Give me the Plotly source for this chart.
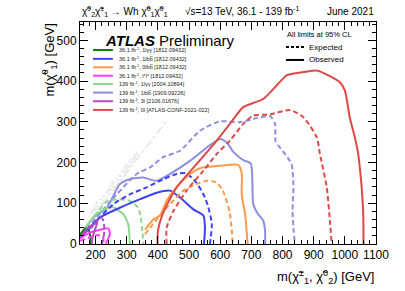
import plotly.graph_objects as go

# ---------------- data ----------------
# 139 fb-1, 0l  (red)
red_obs_x = [399, 400, 417, 460, 524, 589, 631, 674, 738, 781, 813, 867, 910, 947, 984, 1000, 1016, 1032, 1043, 1049, 1054, 1059, 1060]
red_obs_y = [0, 32, 77, 139, 196, 254, 295, 336, 356, 389, 414, 422, 426, 414, 397, 377, 310, 262, 221, 180, 139, 73, 0]
red_exp_x = [428, 428, 450, 492, 546, 589, 631, 674, 706, 760, 824, 867, 910, 920, 942, 952, 958]
red_exp_y = [0, 40, 81, 131, 180, 221, 254, 295, 315, 318, 329, 311, 262, 221, 139, 57, 0]

# 139 fb-1, 1lbb (lavender)
lav_obs_x = [152, 193, 236, 278, 310, 353, 396, 439, 503, 557, 599, 621, 642, 674, 698, 703, 706, 720, 738, 744, 744]
lav_obs_y = [20, 65, 89, 147, 159, 163, 155, 172, 204, 237, 258, 250, 226, 206, 198, 160, 98, 75, 57, 32, 0]
lav_exp_x = [155, 203, 268, 332, 375, 417, 471, 535, 599, 663, 717, 760, 776, 778, 808, 829, 835, 832, 836, 840]
lav_exp_y = [22, 65, 122, 172, 188, 213, 229, 278, 301, 299, 309, 314, 295, 252, 221, 196, 139, 82, 30, 0]

# 36.1 fb-1, 1lbb (blue)
blu_obs_x = [152, 214, 278, 343, 396, 439, 471, 514, 546, 551, 548]
blu_obs_y = [15, 65, 89, 110, 126, 131, 114, 85, 70, 40, 0]
blu_exp_x = [152, 203, 257, 310, 364, 417, 460, 490, 524, 546, 560, 573, 567]
blu_exp_y = [18, 57, 98, 122, 139, 159, 172, 174, 150, 122, 95, 50, 0]

# 36.1 fb-1, 0lbb (orange)
ora_obs_x = [359, 385, 407, 428, 460, 503, 535, 599, 658, 669, 669, 680, 688]
ora_obs_y = [35, 60, 70, 106, 139, 172, 186, 192, 194, 174, 122, 73, 0]
ora_exp_x = [359, 396, 439, 482, 524, 557, 589, 612, 631, 637, 640]
ora_exp_y = [24, 60, 98, 131, 147, 155, 151, 125, 75, 35, 0]

# 139 fb-1, 1lyy (light green)
lgr_obs_x = [150, 200, 236, 257, 289, 305, 310]
lgr_obs_y = [22, 72, 88, 90, 73, 48, 0]
lgr_exp_x = [150, 200, 236, 268, 310, 337, 345, 350, 354]
lgr_exp_y = [22, 72, 104, 110, 106, 89, 65, 32, 0]

# 36.1 fb-1, 1lyy (dark green)
dgr_obs_x = [150, 168, 178, 183, 183]
dgr_obs_y = [22, 38, 34, 18, 0]

# 36.1 fb-1, ll (magenta)
mag_obs_x = [150, 182, 214, 241, 246, 240, 232]
mag_obs_y = [14, 28, 35, 38, 26, 12, 0]
mag_exp_x = [150, 180, 205, 222, 226, 224]
mag_exp_y = [8, 16, 22, 18, 8, 0]

# 139 fb-1, 3l (purple)
pur_obs_x = [152, 171, 193, 205, 198, 190, 188]
pur_obs_y = [18, 36, 48, 52, 35, 15, 0]
pur_exp_x = [160, 193, 209, 218, 226, 228, 224, 220]
pur_exp_y = [24, 45, 60, 65, 55, 30, 10, 0]

diag_x = [150, 430]
diag_y = [25, 305]

legend_labels = [
    "36.1 fb<sup>-1</sup>, 1l\u03b3\u03b3 [1812.09432]",
    "36.1 fb<sup>-1</sup>, 1lbb\u0305 [1812.09432]",
    "36.1 fb<sup>-1</sup>, 0lbb\u0305 [1812.09432]",
    "36.1 fb<sup>-1</sup>, l<sup>\u00b1</sup>l<sup>\u00b1</sup> [1812.09432]",
    "139 fb<sup>-1</sup>, 1l\u03b3\u03b3 [2004.10894]",
    "139 fb<sup>-1</sup>, 1lbb\u0305 [1909.09226]",
    "139 fb<sup>-1</sup>, 3l [2106.01676]",
    "139 fb<sup>-1</sup>, 0l [ATLAS-CONF-2021-022]",
]
legend_colors = ["#0b7d0b", "#3f3fff", "#ff9a4a", "#ff3cff", "#8ed88e", "#8e8ee2", "#b04cc2", "#e04848"]

C_DGR, C_BLU, C_ORA, C_MAG, C_LGR, C_LAV, C_PUR, C_RED = legend_colors

DASH = "5px,3px"

fig = go.Figure()

def add(x, y, color, dash="solid", width=2):
    fig.add_trace(go.Scatter(x=x, y=y, mode="lines",
                             line=dict(color=color, width=width, dash=dash, shape="spline", smoothing=0.6),
                             showlegend=False, hoverinfo="skip"))

add(diag_x, diag_y, "#d0d0d0", "dashdot", 1)
add(lav_exp_x, lav_exp_y, C_LAV, DASH)
add(lav_obs_x, lav_obs_y, C_LAV)
add(lgr_exp_x, lgr_exp_y, C_LGR, DASH)
add(lgr_obs_x, lgr_obs_y, C_LGR)
add(dgr_obs_x, dgr_obs_y, C_DGR)
add(blu_exp_x, blu_exp_y, C_BLU, DASH)
add(blu_obs_x, blu_obs_y, C_BLU)
add(ora_exp_x, ora_exp_y, C_ORA, DASH)
add(ora_obs_x, ora_obs_y, C_ORA)
add(mag_exp_x, mag_exp_y, C_MAG, DASH)
add(mag_obs_x, mag_obs_y, C_MAG)
add(pur_exp_x, pur_exp_y, C_PUR, DASH)
add(pur_obs_x, pur_obs_y, C_PUR)
add(red_exp_x, red_exp_y, C_RED, DASH)
add(red_obs_x, red_obs_y, C_RED)

FONT = "Liberation Sans, Arial, sans-serif"

shapes = []
annotations = []

# manual legend
row_y = [0.874, 0.834, 0.796, 0.758, 0.721, 0.682, 0.643, 0.604]
for lab, col, yy in zip(legend_labels, legend_colors, row_y):
    shapes.append(dict(type="line", xref="paper", yref="paper", x0=0.044, x1=0.111, y0=yy, y1=yy,
                       line=dict(color=col, width=2)))
    annotations.append(dict(xref="paper", yref="paper", x=0.125, y=yy, text=lab, showarrow=False,
                            xanchor="left", yanchor="middle", font=dict(size=5.5, color="#222", family=FONT)))

# expected / observed keys
shapes.append(dict(type="line", xref="paper", yref="paper", x0=0.696, x1=0.757, y0=0.887, y1=0.887,
                   line=dict(color="black", width=2, dash="3px,2px")))
shapes.append(dict(type="line", xref="paper", yref="paper", x0=0.696, x1=0.757, y0=0.829, y1=0.829,
                   line=dict(color="black", width=2)))
annotations += [
    dict(xref="paper", yref="paper", x=0.693, y=0.944, text="All limits at 95% CL", showarrow=False,
         xanchor="left", yanchor="middle", font=dict(size=7.5, color="black", family=FONT)),
    dict(xref="paper", yref="paper", x=0.768, y=0.887, text="Expected", showarrow=False,
         xanchor="left", yanchor="middle", font=dict(size=8, color="black", family=FONT)),
    dict(xref="paper", yref="paper", x=0.768, y=0.829, text="Observed", showarrow=False,
         xanchor="left", yanchor="middle", font=dict(size=8, color="black", family=FONT)),
    dict(xref="paper", yref="paper", x=0.078, y=0.915, text="<b><i>ATLAS</i></b> Preliminary", showarrow=False,
         xanchor="left", yanchor="middle", font=dict(size=15, color="black", family=FONT)),
    # diagonal label
    dict(x=262, y=150, text="m(\u03c7\u0303<sup>\u00b1</sup><sub>1</sub>) < m(\u03c7\u0303<sup>0</sup><sub>1</sub>) + 125 GeV",
         showarrow=False, textangle=-52.5, font=dict(size=6.5, color="#d2d2d2", family=FONT)),
    # top row
    dict(xref="paper", yref="paper", x=0.0, y=1.0, yshift=11,
         text="\u03c7\u0303<sup>0</sup><sub>2</sub>\u03c7\u0303<sup>\u00b1</sup><sub>1</sub> \u2192 Wh \u03c7\u0303<sup>0</sup><sub>1</sub>\u03c7\u0303<sup>0</sup><sub>1</sub>",
         showarrow=False, xanchor="left", yanchor="middle", font=dict(size=10, color="black", family=FONT)),
    dict(xref="paper", yref="paper", x=0.348, y=1.0, yshift=11,
         text="\u221as=13 TeV, 36.1 - 139 fb<sup>-1</sup>",
         showarrow=False, xanchor="left", yanchor="middle", font=dict(size=10, color="black", family=FONT)),
    dict(xref="paper", yref="paper", x=1.0, y=1.0, yshift=11, text="June 2021",
         showarrow=False, xanchor="right", yanchor="middle", font=dict(size=10, color="black", family=FONT)),
    # axis titles
    dict(xref="paper", yref="paper", x=1.0, y=0, yshift=-33,
         text="m(\u03c7\u0303<sup>\u00b1</sup><sub>1</sub>, \u03c7\u0303<sup>0</sup><sub>2</sub>) [GeV]",
         showarrow=False, xanchor="right", yanchor="middle", font=dict(size=13, color="black", family=FONT)),
    dict(xref="paper", yref="paper", x=0, xshift=-31, y=1.0,
         text="m(\u03c7\u0303<sup>0</sup><sub>1</sub>) [GeV]", textangle=-90,
         showarrow=False, xanchor="center", yanchor="top", font=dict(size=13, color="black", family=FONT)),
]

axis_common = dict(showgrid=False, zeroline=False, showline=True, linecolor="black", linewidth=1,
                   mirror="allticks", ticks="inside", ticklen=8, tickcolor="black",
                   tickfont=dict(size=12, color="black", family=FONT),
                   minor=dict(ticks="inside", ticklen=4, tickcolor="black", showgrid=False))

fig.update_xaxes(range=[150, 1100], dtick=100, tick0=100, **axis_common)
fig.update_yaxes(range=[0, 545], dtick=100, tick0=0, **axis_common)
fig.update_xaxes(minor_dtick=20)
fig.update_yaxes(minor_dtick=20)

fig.update_layout(width=405, height=291, margin=dict(l=80, r=29, t=22, b=47),
                  paper_bgcolor="white", plot_bgcolor="white", showlegend=False,
                  shapes=shapes, annotations=annotations, font=dict(family=FONT))

fig.write_html("out.html", config={"displayModeBar": False},
               post_script="document.body.style.margin='0px';")
